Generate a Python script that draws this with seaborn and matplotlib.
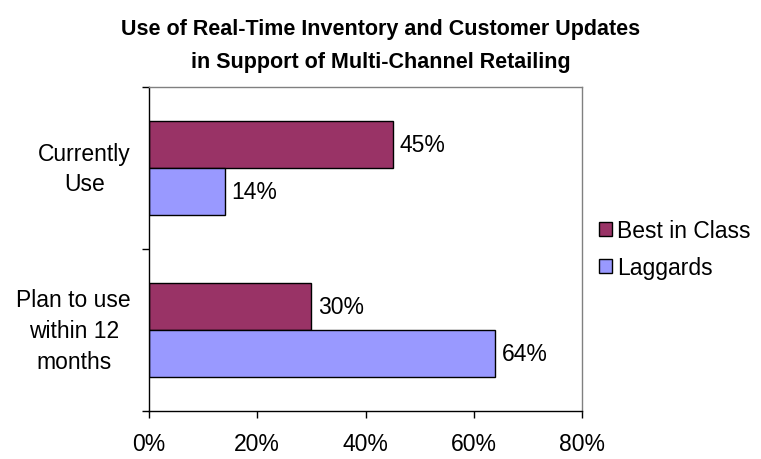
import matplotlib
matplotlib.use("Agg")
import matplotlib.pyplot as plt
import matplotlib.transforms as mtransforms
import seaborn as sns
import pandas as pd
from matplotlib.ticker import FuncFormatter, FixedLocator

categories = ["Currently\nUse", "Plan to use\nwithin 12\nmonths"]
series = ["Best in Class", "Laggards"]
best_in_class = [45, 30]
laggards = [14, 64]
colors = ["#993366", "#9999FF"]
xticks = [0, 20, 40, 60, 80]

rows = []
for c, b, l in zip(categories, best_in_class, laggards):
    rows.append({"cat": c, "series": series[0], "val": b})
    rows.append({"cat": c, "series": series[1], "val": l})
df = pd.DataFrame(rows)

sns.set_theme(style="white")
plt.rcParams["font.family"] = ["Liberation Sans", "DejaVu Sans"]
plt.rcParams["text.color"] = "black"
plt.rcParams["xtick.color"] = "black"
plt.rcParams["ytick.color"] = "black"

FS = 16.5

fig = plt.figure(figsize=(7.61, 4.60), dpi=100)
ax = fig.add_axes([149/761, 48/460, (582-149)/761, (412-88)/460])

sns.barplot(data=df, y="cat", x="val", hue="series", orient="h",
            palette=colors, saturation=1, width=0.575, edgecolor="black",
            linewidth=1, ax=ax, dodge=True, legend=True)

ax.set_xlim(0, 80)
ax.set_ylim(1.5, -0.5)
ax.xaxis.set_major_locator(FixedLocator(xticks))
ax.xaxis.set_major_formatter(FuncFormatter(lambda v, p: f"{int(v)}%"))
ax.set_xlabel("")
ax.set_ylabel("")

for cont in ax.containers:
    ax.bar_label(cont, labels=[f"{int(v)}%" for v in cont.datavalues],
                 padding=5, fontsize=FS, color="black")

ax.tick_params(axis="x", which="major", length=5, width=1, color="black",
               direction="out", labelsize=FS, labelcolor="black", pad=10, bottom=True)
ax.set_yticks([-0.5, 0.5, 1.5], minor=True)
ax.tick_params(axis="y", which="minor", length=5, width=1, color="black",
               direction="out", left=True)
ax.tick_params(axis="y", which="major", length=0, labelsize=FS, labelcolor="black", pad=13)
shift = mtransforms.ScaledTranslation(0, 6/100, fig.dpi_scale_trans)
for lab in ax.get_yticklabels():
    lab.set_multialignment("center")
    lab.set_linespacing(1.43)
    lab.set_transform(lab.get_transform() + shift)

for s in ["left", "bottom"]:
    ax.spines[s].set_color("black")
    ax.spines[s].set_linewidth(1)
for s in ["top", "right"]:
    ax.spines[s].set_color("#808080")
    ax.spines[s].set_linewidth(1)

leg = ax.legend(loc="center left", bbox_to_anchor=(1.018, 0.5), frameon=False,
                fontsize=FS, handlelength=0.55, handleheight=0.55,
                handletextpad=0.25, labelspacing=0.62, borderaxespad=0)
for t in leg.get_texts():
    t.set_color("black")

fig.text(0.5, 1 - 46/460,
         "Use of Real-Time Inventory and Customer Updates\nin Support of Multi-Channel Retailing",
         ha="center", va="center", fontsize=15.5, fontweight="bold",
         linespacing=1.75, color="black")

fig.savefig("out.png", dpi=100)
